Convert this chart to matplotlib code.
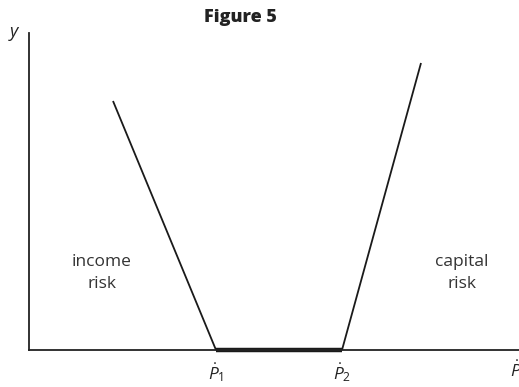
import matplotlib
matplotlib.use("Agg")
import matplotlib.pyplot as plt

plt.rcParams['font.family'] = ['Open Sans', 'DejaVu Sans']
plt.rcParams['mathtext.fontset'] = 'custom'
plt.rcParams['mathtext.rm'] = 'Open Sans'
plt.rcParams['mathtext.it'] = 'Open Sans:italic'

# data (arbitrary units, x = inflation rate axis, y = risk)
left_x = [84, 187]
left_y = [249, 0]
flat_x = [187, 313]
flat_y = [0, 0]
right_x = [313, 392]
right_y = [0, 287]
tick_pos = [187, 313, 481]
tick_labels = [r'$\dot{P}_1$', r'$\dot{P}_2$', r'$\dot{P}$']

W, H = 519, 387
fig = plt.figure(figsize=(W/100, H/100), dpi=100)
ax = fig.add_axes([29/W, (H-350)/H, 1-29/W, (350-33)/H])
ax.set_xlim(0, 490)
ax.set_ylim(0, 317)
for s in ['top', 'right']:
    ax.spines[s].set_visible(False)
ax.spines['left'].set_linewidth(1.3)
ax.spines['bottom'].set_linewidth(1.3)
ax.spines['left'].set_color('#222222')
ax.spines['bottom'].set_color('#222222')
ax.set_xticks([])
ax.set_yticks([])

ax.plot(left_x, left_y, color='#1a1a1a', lw=1.3, solid_capstyle='butt', clip_on=False)
ax.plot(right_x, right_y, color='#1a1a1a', lw=1.3, solid_capstyle='butt', clip_on=False)
ax.plot(flat_x, flat_y, color='#1a1a1a', lw=3.2, solid_capstyle='butt', clip_on=False)

for p, lab in zip(tick_pos, tick_labels):
    ax.text(p, -11, lab, ha='left' if p > 470 else 'center', va='top', fontsize=12.5,
            color='#222222', clip_on=False)

ax.text(73, 77, 'income\nrisk', ha='center', va='center', fontsize=12.5,
        color='#333333', linespacing=1.45)
ax.text(433, 77, 'capital\nrisk', ha='center', va='center', fontsize=12.5,
        color='#333333', linespacing=1.45)

fig.text(240/W, 1-17/H, 'Figure 5', ha='center', va='center', fontsize=13,
         fontweight='heavy', color='#222222')
fig.text(14/W, 1-32/H, 'y', ha='center', va='center', fontsize=13,
         style='italic', color='#222222')

fig.savefig('out.png', dpi=100)
